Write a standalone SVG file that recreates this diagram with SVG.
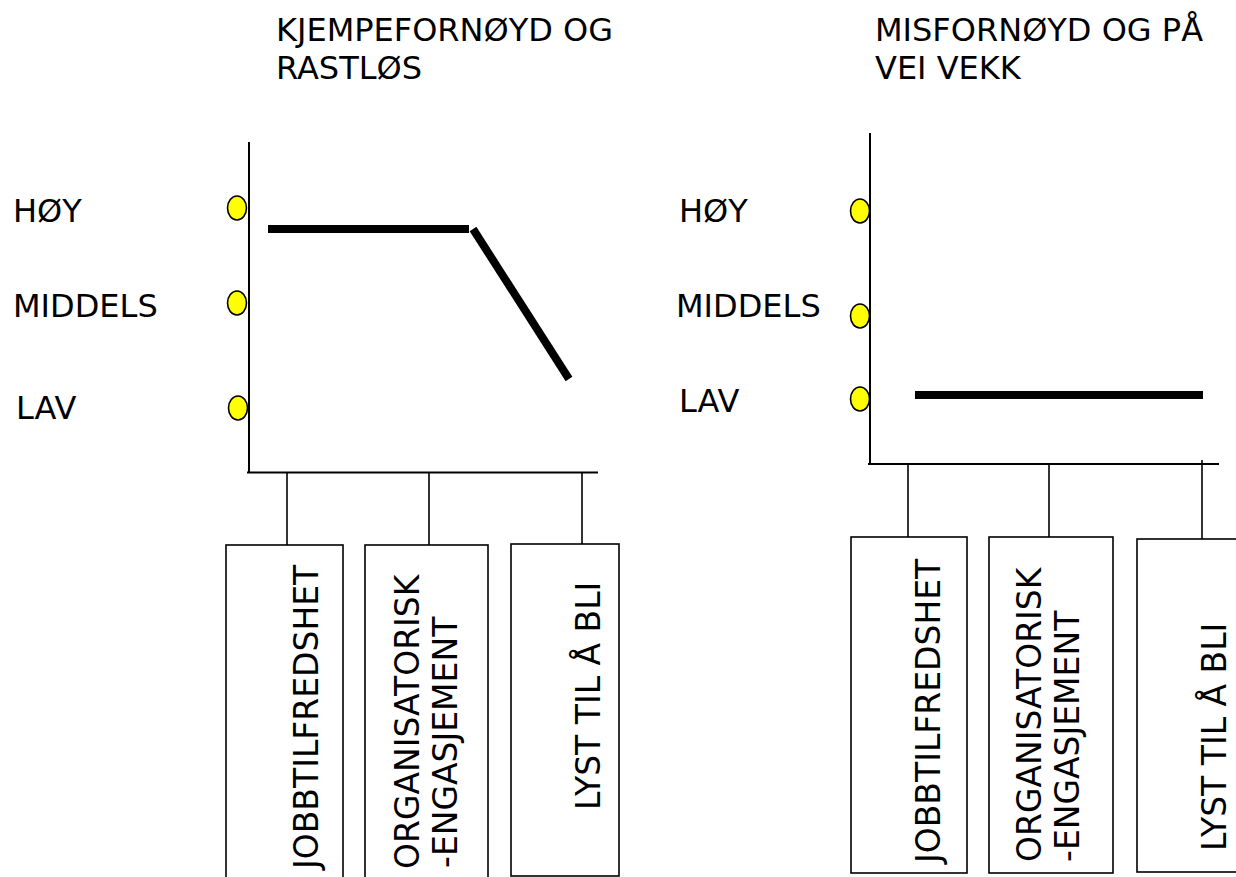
<svg xmlns="http://www.w3.org/2000/svg" width="1236" height="877" viewBox="0 0 1236 877">
  <style>
    text { font-family: "DejaVu Sans", Verdana, sans-serif; fill: #000; }
    .title { font-size: 32px; }
    .lvl { font-size: 32px; }
    .box-label { font-size: 33px; }
    .axis { stroke: #000; stroke-width: 2; fill: none; }
    .tick { stroke: #000; stroke-width: 1.6; fill: none; }
    .box { stroke: #000; stroke-width: 1.6; fill: #fff; }
    .dot { fill: #ffff00; stroke: #000; stroke-width: 1.6; }
    .trend { stroke: #000; stroke-width: 8; fill: none; stroke-linecap: butt; }
  </style>

  <!-- Left chart: very satisfied and restless -->
  <g id="chart-left">
    <g id="title-left">
      <text class="title" x="276" y="41">KJEMPEFORNØYD OG</text>
      <text class="title" x="276" y="79">RASTLØS</text>
    </g>
    <g id="levels-left">
      <text class="lvl" x="13" y="222">HØY</text>
      <text class="lvl" x="13" y="317">MIDDELS</text>
      <text class="lvl" x="16" y="419">LAV</text>
      <ellipse class="dot" cx="237" cy="208" rx="9.5" ry="12"/>
      <ellipse class="dot" cx="237" cy="303" rx="9.5" ry="12"/>
      <ellipse class="dot" cx="238" cy="408" rx="9.5" ry="12"/>
    </g>
    <g id="axes-left">
      <line class="axis" x1="249" y1="142" x2="249" y2="473"/>
      <line class="axis" x1="247" y1="472.5" x2="598" y2="472.5"/>
    </g>
    <g id="trend-left">
      <line class="trend" x1="268" y1="229" x2="469" y2="229"/>
      <line class="trend" x1="473" y1="229" x2="569" y2="379"/>
    </g>
    <g id="node-l-jobb">
      <rect class="box" x="226" y="545" width="117" height="340"/>
      <text class="box-label" transform="translate(318,869) rotate(-90)">JOBBTILFREDSHET</text>
    </g>
    <g id="node-l-org">
      <rect class="box" x="365" y="545" width="123" height="340"/>
      <text class="box-label" transform="translate(419,869) rotate(-90)">ORGANISATORISK</text>
      <text class="box-label" transform="translate(457,868) rotate(-90)">-ENGASJEMENT</text>
    </g>
    <g id="node-l-lyst">
      <rect class="box" x="511" y="544" width="108" height="332"/>
      <text class="box-label" transform="translate(600,810) rotate(-90)">LYST TIL Å BLI</text>
    </g>
  </g>

  <!-- Right chart: dissatisfied and on the way out -->
  <g id="chart-right">
    <g id="title-right">
      <text class="title" x="875" y="41">MISFORNØYD OG PÅ</text>
      <text class="title" x="875" y="79">VEI VEKK</text>
    </g>
    <g id="levels-right">
      <text class="lvl" x="679" y="222">HØY</text>
      <text class="lvl" x="676" y="317">MIDDELS</text>
      <text class="lvl" x="679" y="412">LAV</text>
      <ellipse class="dot" cx="860" cy="211" rx="9.5" ry="12"/>
      <ellipse class="dot" cx="860" cy="316" rx="9.5" ry="12"/>
      <ellipse class="dot" cx="860" cy="399" rx="9.5" ry="12"/>
    </g>
    <g id="axes-right">
      <line class="axis" x1="870" y1="133" x2="870" y2="465"/>
      <line class="axis" x1="868" y1="464" x2="1219" y2="464"/>
    </g>
    <g id="trend-right">
      <line class="trend" x1="915" y1="395" x2="1203" y2="395"/>
    </g>
    <g id="node-r-jobb">
      <rect class="box" x="851" y="537" width="116" height="336"/>
      <text class="box-label" transform="translate(940,863) rotate(-90)">JOBBTILFREDSHET</text>
    </g>
    <g id="node-r-org">
      <rect class="box" x="989" y="537" width="124" height="336"/>
      <text class="box-label" transform="translate(1041,862) rotate(-90)">ORGANISATORISK</text>
      <text class="box-label" transform="translate(1079,862) rotate(-90)">-ENGASJEMENT</text>
    </g>
    <g id="node-r-lyst">
      <rect class="box" x="1137" y="539" width="120" height="333"/>
      <text class="box-label" transform="translate(1226,851) rotate(-90)">LYST TIL Å BLI</text>
    </g>
  </g>

  <!-- Connectors from the horizontal axes down to the boxes -->
  <g id="connectors">
    <line class="tick" x1="287" y1="473" x2="287" y2="545"/>
    <line class="tick" x1="429" y1="473" x2="429" y2="545"/>
    <line class="tick" x1="582" y1="473" x2="582" y2="544"/>
    <line class="tick" x1="908" y1="464" x2="908" y2="537"/>
    <line class="tick" x1="1049" y1="464" x2="1049" y2="537"/>
    <line class="tick" x1="1202" y1="460" x2="1202" y2="539"/>
  </g>
</svg>
